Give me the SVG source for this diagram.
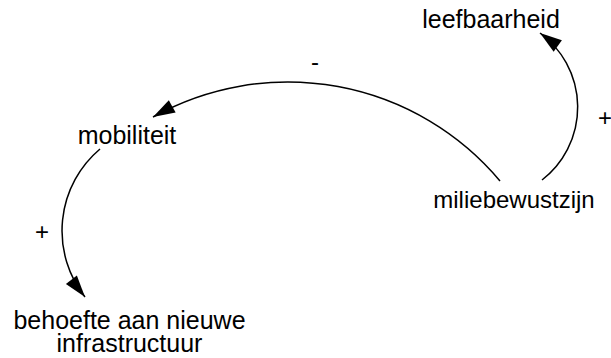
<svg xmlns="http://www.w3.org/2000/svg" width="611" height="358" viewBox="0 0 611 358">
  <style>
    .label { font-family: "Liberation Sans", Arial, sans-serif; font-size: 25px; fill: #000; text-anchor: middle; }
    .narrow { font-size: 24px; }
    .link { fill: none; stroke: #000; stroke-width: 1.5; marker-end: url(#arrow); }
  </style>
  <defs>
    <marker id="arrow" markerUnits="userSpaceOnUse" markerWidth="22" markerHeight="14" refX="22" refY="7" orient="auto" overflow="visible">
      <path d="M0,0 L22,7 L0,14 Z" fill="#000"/>
    </marker>
  </defs>
  <rect width="611" height="358" fill="#fff"/>

  <g id="connectors">
    <path class="link" d="M500,181 A277,277 0 0 0 153,117"/>
    <path class="link" d="M542,180 A92,92 0 0 0 540,33"/>
    <path class="link" d="M100,149 A107,107 0 0 0 85,297"/>
    <text class="label narrow" x="315" y="70">-</text>
    <text class="label narrow" x="605" y="126">+</text>
    <text class="label narrow" x="42" y="240">+</text>
  </g>

  <g id="leefbaarheid">
    <text class="label" x="491" y="28">leefbaarheid</text>
  </g>
  <g id="mobiliteit">
    <text class="label" x="127" y="144">mobiliteit</text>
  </g>
  <g id="miliebewustzijn">
    <text class="label narrow" x="514" y="208">miliebewustzijn</text>
  </g>
  <g id="behoefte">
    <text class="label" x="129.5" y="329">behoefte aan nieuwe</text>
    <text class="label" x="129.5" y="352">infrastructuur</text>
  </g>
</svg>
